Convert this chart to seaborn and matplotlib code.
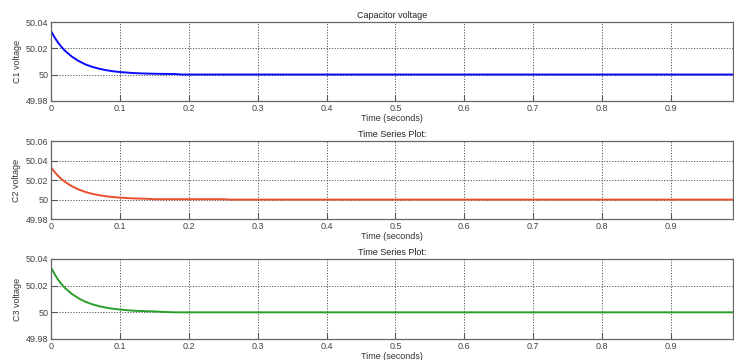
import numpy as np
import pandas as pd
import matplotlib
matplotlib.use("Agg")
import matplotlib.pyplot as plt
import seaborn as sns

# Time samples (s)
time_s = [0.0, 0.005, 0.01, 0.015, 0.02, 0.03, 0.04, 0.05, 0.06, 0.07, 0.08, 0.09,
          0.10, 0.11, 0.12, 0.13, 0.14, 0.15, 0.16, 0.18, 0.19, 0.25, 0.26, 0.4, 0.6, 0.8, 0.99]
c1_voltage = [50.0332, 50.0285, 50.0245, 50.0212, 50.0183, 50.0138, 50.0104, 50.0078, 50.0059,
              50.0045, 50.0034, 50.0026, 50.0020, 50.0016, 50.0012, 50.0010, 50.0008, 50.0007,
              50.0006, 50.0005, 50.0001, 50.0001, 50.0001, 50.0001, 50.0001, 50.0001, 50.0001]
c2_voltage = [50.0330, 50.0284, 50.0244, 50.0211, 50.0182, 50.0137, 50.0103, 50.0077, 50.0058,
              50.0044, 50.0033, 50.0025, 50.0019, 50.0015, 50.0011, 50.0009, 50.0007, 50.0003,
              50.0003, 50.0003, 50.0003, 50.0003, 49.9999, 49.9999, 49.9999, 49.9999, 49.9999]
c3_voltage = [50.0335, 50.0288, 50.0247, 50.0213, 50.0184, 50.0139, 50.0105, 50.0079, 50.0060,
              50.0046, 50.0035, 50.0027, 50.0021, 50.0016, 50.0012, 50.0010, 50.0008, 50.0007,
              50.0004, 50.0000, 50.0000, 50.0000, 50.0000, 50.0000, 50.0000, 50.0000, 50.0000]

titles = ["Capacitor voltage", "Time Series Plot:", "Time Series Plot:"]
ylabels = ["C1 voltage", "C2 voltage", "C3 voltage"]
colors = ["#0a0aff", "#e8502c", "#2a9e2a"]
ylims = [(49.98, 50.04), (49.98, 50.06), (49.98, 50.04)]
yticks = [[49.98, 50, 50.02, 50.04], [49.98, 50, 50.02, 50.04, 50.06], [49.98, 50, 50.02, 50.04]]
xticks = [0, 0.1, 0.2, 0.3, 0.4, 0.5, 0.6, 0.7, 0.8, 0.9]

sns.set_theme(style="white")
plt.rcParams['font.family'] = ['Liberation Sans', 'DejaVu Sans']

fig = plt.figure(figsize=(7.34, 3.6), dpi=100)
W, H = 734, 360
boxes = [(22, 101), (141, 219), (259, 339)]
series = [c1_voltage, c2_voltage, c3_voltage]

def fmt(v):
    if abs(v - 50) < 1e-9:
        return "50"
    return f"{v:.2f}"

for i in range(3):
    top, bot = boxes[i]
    ax = fig.add_axes([51 / W, 1 - bot / H, (733 - 51) / W, (bot - top) / H])
    df = pd.DataFrame({"t": time_s, "v": series[i]})
    sns.lineplot(data=df, x="t", y="v", ax=ax, color=colors[i], linewidth=1.4)
    ax.set_xlim(0, 0.99)
    ax.set_ylim(*ylims[i])
    ax.set_xticks(xticks)
    ax.set_xticklabels([("0" if x == 0 else f"{x:g}") for x in xticks])
    ax.set_yticks(yticks[i])
    ax.set_yticklabels([fmt(v) for v in yticks[i]])
    ax.grid(True, color="#555555", linestyle=(0, (1.2, 1.6)), linewidth=0.7)
    ax.tick_params(direction="in", length=4, width=0.8, colors="#555555",
                   labelsize=6.5, labelcolor="#444444", pad=2, bottom=True, left=True)
    for sp in ax.spines.values():
        sp.set_color("#666666")
        sp.set_linewidth(0.9)
    ax.set_xlabel("Time (seconds)", fontsize=6.5, color="#333333", labelpad=1)
    ax.set_ylabel(ylabels[i], fontsize=6.5, color="#333333", labelpad=3)
    ax.set_title(titles[i], fontsize=6.5, color="#222222", pad=3)

fig.savefig("out.png", dpi=100)
